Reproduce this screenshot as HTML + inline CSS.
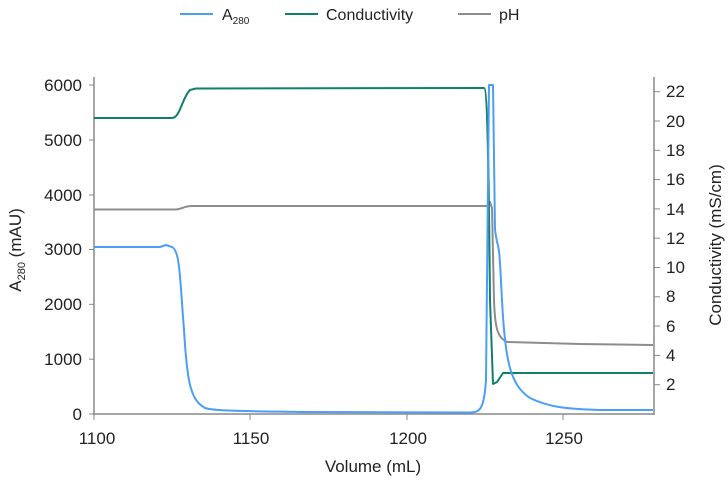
<!DOCTYPE html>
<html><head><meta charset="utf-8"><style>
body{margin:0;background:#fff}
svg{display:block;font-family:"Liberation Sans",sans-serif}
</style></head><body>
<svg width="728" height="480" viewBox="0 0 728 480" xmlns="http://www.w3.org/2000/svg">
<line x1="180" y1="14" x2="213" y2="14" stroke="#4a9ff5" stroke-width="2"/>
<text x="222" y="20" font-size="16" fill="#222">A<tspan font-size="10" dy="4">280</tspan></text>
<line x1="285" y1="14" x2="318" y2="14" stroke="#11806a" stroke-width="2"/>
<text x="326" y="20" font-size="16" fill="#222">Conductivity</text>
<line x1="458" y1="14" x2="491" y2="14" stroke="#8c8c8c" stroke-width="2"/>
<text x="499" y="20" font-size="16" fill="#222">pH</text>
<g stroke="#888" stroke-width="1.5" fill="none">
<line x1="94" y1="77" x2="94" y2="415"/>
<line x1="93" y1="414" x2="654" y2="414"/>
<line x1="654" y1="77" x2="654" y2="415"/>
</g>
<g stroke="#888" stroke-width="1">
<line x1="89" y1="85" x2="94" y2="85"/><line x1="89" y1="140" x2="94" y2="140"/><line x1="89" y1="195" x2="94" y2="195"/><line x1="89" y1="249.5" x2="94" y2="249.5"/><line x1="89" y1="304.3" x2="94" y2="304.3"/><line x1="89" y1="359.2" x2="94" y2="359.2"/><line x1="89" y1="414" x2="94" y2="414"/>
<line x1="94" y1="414" x2="94" y2="420"/><line x1="250" y1="414" x2="250" y2="420"/><line x1="407" y1="414" x2="407" y2="420"/><line x1="563" y1="414" x2="563" y2="420"/>
<line x1="654" y1="384.7" x2="660" y2="384.7"/><line x1="654" y1="355.4" x2="660" y2="355.4"/><line x1="654" y1="326" x2="660" y2="326"/><line x1="654" y1="296.8" x2="660" y2="296.8"/><line x1="654" y1="267.5" x2="660" y2="267.5"/><line x1="654" y1="238.2" x2="660" y2="238.2"/><line x1="654" y1="208.9" x2="660" y2="208.9"/><line x1="654" y1="179.6" x2="660" y2="179.6"/><line x1="654" y1="150.3" x2="660" y2="150.3"/><line x1="654" y1="121" x2="660" y2="121"/><line x1="654" y1="91.7" x2="660" y2="91.7"/>
</g>
<g font-size="17" fill="#222" text-anchor="end">
<text x="82" y="91">6000</text><text x="82" y="146">5000</text><text x="82" y="201">4000</text><text x="82" y="255">3000</text><text x="82" y="310">2000</text><text x="82" y="365">1000</text><text x="82" y="420">0</text>
</g>
<g font-size="17" fill="#222" text-anchor="middle">
<text x="97" y="444">1100</text><text x="251" y="444">1150</text><text x="408" y="444">1200</text><text x="564" y="444">1250</text>
<text x="373" y="472">Volume (mL)</text>
</g>
<g font-size="17" fill="#222">
<text x="666" y="390">2</text><text x="666" y="361">4</text><text x="666" y="332">6</text><text x="666" y="302">8</text><text x="666" y="273">10</text><text x="666" y="244">12</text><text x="666" y="215">14</text><text x="666" y="185">16</text><text x="666" y="156">18</text><text x="666" y="127">20</text><text x="666" y="97">22</text>
</g>
<text transform="translate(21,250) rotate(-90)" font-size="17" fill="#222" text-anchor="middle">A<tspan font-size="11" dy="4">280</tspan><tspan dy="-4"> (mAU)</tspan></text>
<text transform="translate(721,245) rotate(-90)" font-size="17" fill="#222" text-anchor="middle">Conductivity (mS/cm)</text>
<g fill="none" stroke-width="2" stroke-linejoin="round">
<path stroke="#8c8c8c" d="M94,209.5 L176,209.5 C182,209 184,206 192,206 L488,206 L490,202 L492,208 L494,300 C495,330 498,338 507,342 L580,344 L653,345"/>
<path stroke="#11806a" d="M94,118 L172,118 C180,118 182,98 190,90 L196,88.5 L484,88 C488,88 489,200 490,300 L493,384 L497,382 L503,373 L653,373"/>
<path stroke="#4a9ff5" d="M94,247 L160,247 L166,245 L172,247 C180,250 180,280 184,330 C187,380 190,400 205,408 C215,411 240,411 300,412 L470,412.5 C480,412 484,410 486,380 L489,85 L493,85 L495,230 L497,242 C500,250 500,265 502,300 C505,360 510,385 530,398 C550,408 570,409 600,410 L653,410"/>
</g>
</svg>
</body></html>
